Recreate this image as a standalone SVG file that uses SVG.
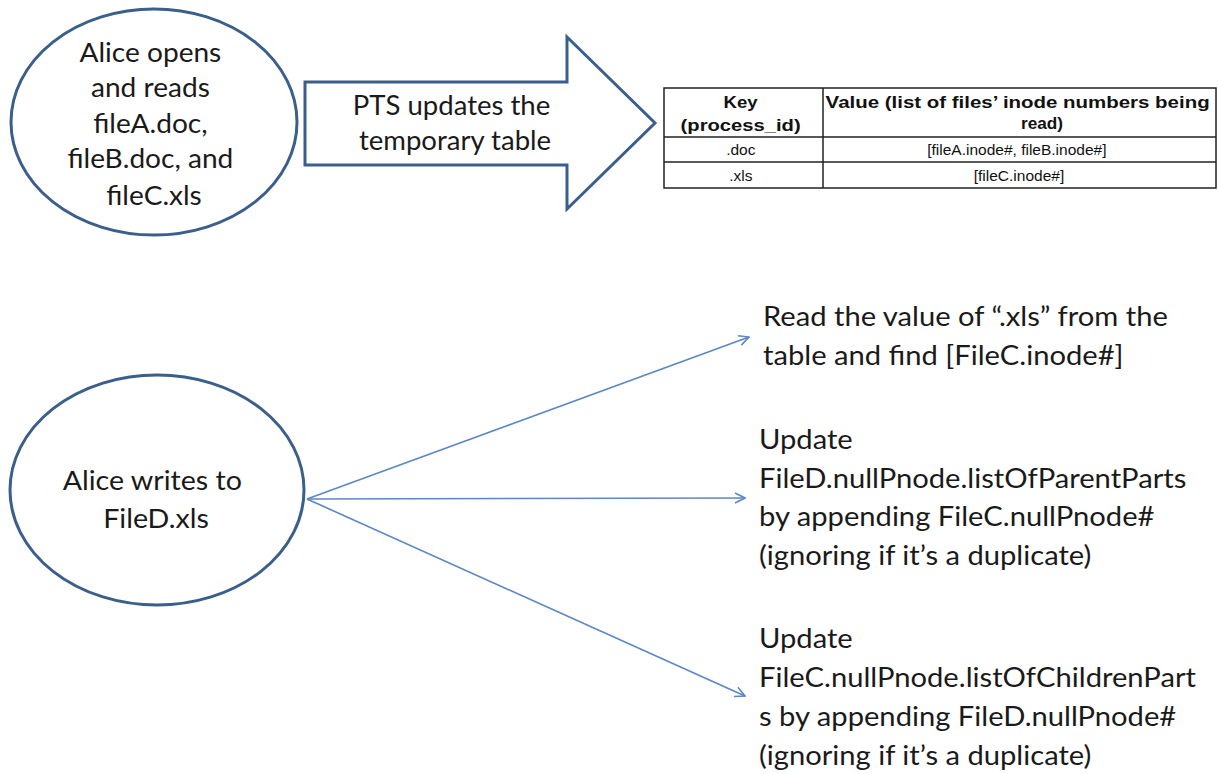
<svg xmlns="http://www.w3.org/2000/svg" width="1218" height="774" viewBox="0 0 1218 774">
<style>
.node{fill:#fff;stroke:#3a5f8b;stroke-width:3}
.big{font-family:Lato,"Liberation Sans",sans-serif;font-size:26px;fill:#1a1a1a}
.side{font-family:Lato,"Liberation Sans",sans-serif;font-size:27px;fill:#1a1a1a}
.th{font-family:"Liberation Sans",Arial,sans-serif;font-size:17px;font-weight:bold;fill:#111}
.td{font-family:"Liberation Sans",Arial,sans-serif;font-size:15.5px;fill:#111}
.grid{stroke:#222;stroke-width:1.5;fill:none}
.conn{stroke:#5b87c5;stroke-width:1.6;fill:none}
</style>
<defs>
<marker id="open" markerWidth="12" markerHeight="12" refX="11" refY="6" orient="auto" markerUnits="userSpaceOnUse">
<path d="M1,1 L11,6 L1,11" fill="none" stroke="#5b87c5" stroke-width="1.6"/>
</marker>
</defs>
<rect width="1218" height="774" fill="#fff"/>
<g id="alice-reads">
<ellipse class="node" cx="154" cy="122" rx="143" ry="113"/>
<text class="big" text-anchor="middle" transform="translate(154,0) scale(1.08,1)">
<tspan x="0" y="62">Alice opens</tspan>
<tspan x="0" y="97">and reads</tspan>
<tspan x="0" y="133">fileA.doc,</tspan>
<tspan x="0" y="168">fileB.doc, and</tspan>
<tspan x="0" y="205">fileC.xls</tspan>
</text>
</g>
<g id="pts-arrow">
<path class="node" d="M305,82 L567,82 L567,37 L655,123 L567,209 L567,165 L305,165 Z"/>
<text class="big" text-anchor="middle" transform="translate(455,0) scale(1.06,1)">
<tspan x="0" y="115">PTS updates the</tspan>
<tspan x="0" y="150">temporary table</tspan>
</text>
</g>
<g id="table">
<rect class="grid" x="664" y="88" width="552" height="100"/>
<line class="grid" x1="823" y1="88" x2="823" y2="188"/>
<line class="grid" x1="664" y1="137" x2="1216" y2="137"/>
<line class="grid" x1="664" y1="162" x2="1216" y2="162"/>
<text class="th" text-anchor="middle">
<tspan x="743" y="108" textLength="34" lengthAdjust="spacingAndGlyphs">Key</tspan>
<tspan x="743" y="131" textLength="120" lengthAdjust="spacingAndGlyphs">(process_id)</tspan>
<tspan x="1020" y="108" textLength="384" lengthAdjust="spacingAndGlyphs">Value (list of files’ inode numbers being</tspan>
<tspan x="1042" y="129" textLength="42" lengthAdjust="spacingAndGlyphs">read)</tspan>
</text>
<text class="td" text-anchor="middle">
<tspan x="743" y="155">.doc</tspan>
<tspan x="1019" y="155">[fileA.inode#, fileB.inode#]</tspan>
<tspan x="743" y="181">.xls</tspan>
<tspan x="1019" y="181">[fileC.inode#]</tspan>
</text>
</g>
<g id="alice-writes">
<ellipse class="node" cx="157" cy="490" rx="147" ry="115"/>
<text class="big" text-anchor="middle" transform="translate(156,0) scale(1.1,1)">
<tspan x="0" y="490">Alice writes to</tspan>
<tspan x="0" y="528">FileD.xls</tspan>
</text>
</g>
<g id="connectors">
<line class="conn" x1="307" y1="499" x2="749" y2="337" marker-end="url(#open)"/>
<line class="conn" x1="307" y1="499" x2="745" y2="498" marker-end="url(#open)"/>
<line class="conn" x1="307" y1="499" x2="745" y2="696" marker-end="url(#open)"/>
</g>
<g id="read-value">
<text class="side" transform="translate(763,0) scale(1.08,1)">
<tspan x="0" y="326">Read the value of “.xls”  from the</tspan>
<tspan x="0" y="365">table and find [FileC.inode#]</tspan>
</text>
</g>
<g id="update-parent">
<text class="side" transform="translate(759,0) scale(1.08,1)">
<tspan x="0" y="449">Update</tspan>
<tspan x="0" y="488">FileD.nullPnode.listOfParentParts</tspan>
<tspan x="0" y="526">by appending FileC.nullPnode#</tspan>
<tspan x="0" y="565">(ignoring if it’s a duplicate)</tspan>
</text>
</g>
<g id="update-children">
<text class="side" transform="translate(759,0) scale(1.08,1)">
<tspan x="0" y="648">Update</tspan>
<tspan x="0" y="687">FileC.nullPnode.listOfChildrenPart</tspan>
<tspan x="0" y="726">s by appending FileD.nullPnode#</tspan>
<tspan x="0" y="765">(ignoring if it’s a duplicate)</tspan>
</text>
</g>
</svg>
